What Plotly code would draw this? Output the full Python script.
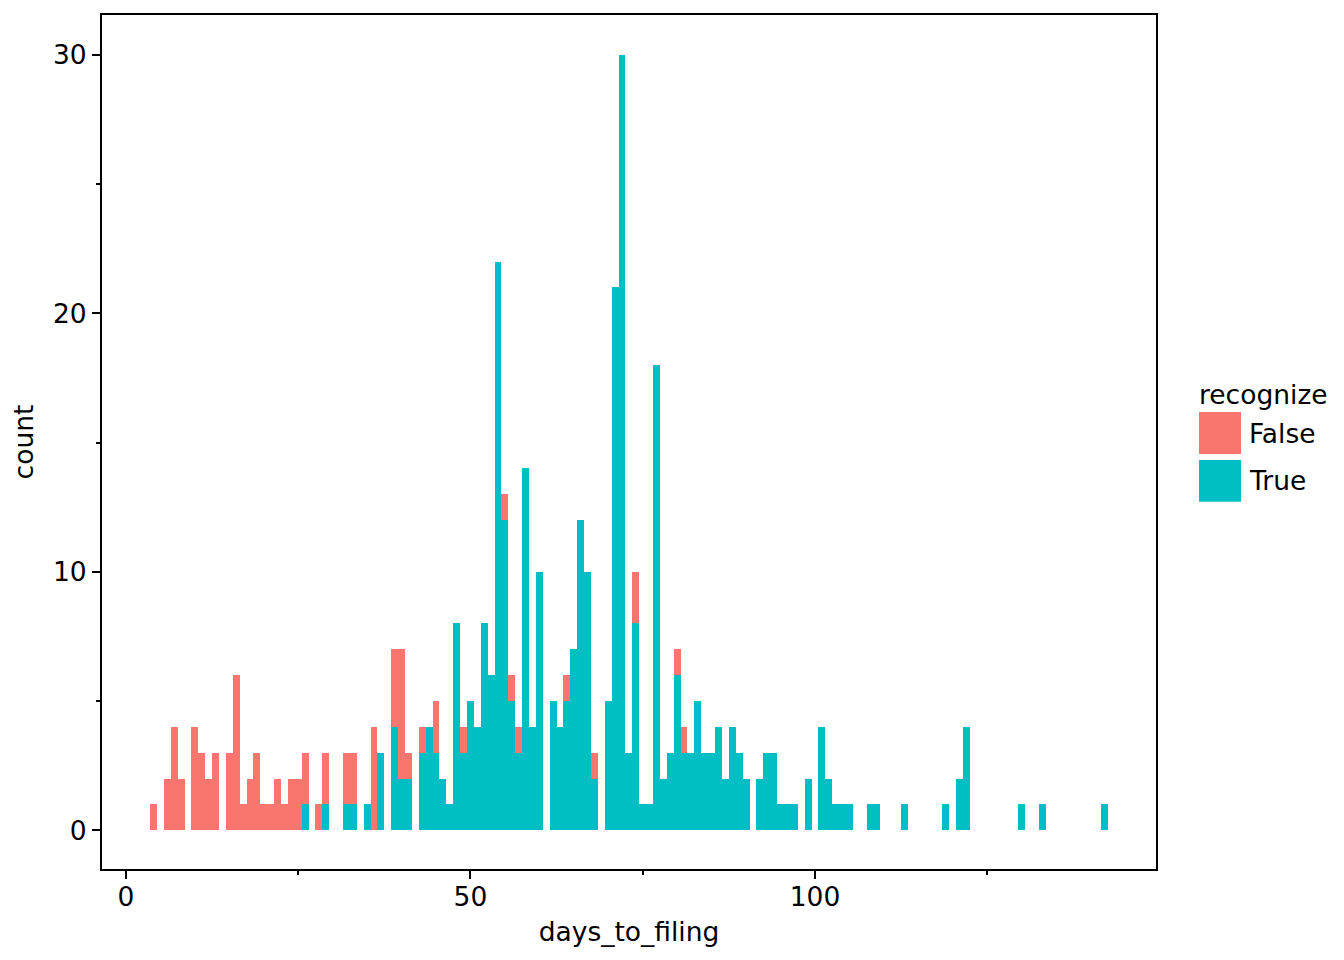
import plotly.graph_objects as go

# Histogram (binwidth = 1) counts
false_days = [4, 6, 7, 8, 10, 11, 12, 13, 15, 16, 17, 18, 19, 20, 21, 22, 23, 24, 25, 26,
              28, 29, 32, 33, 36, 39, 40, 41, 43, 45, 49, 55, 56, 57, 64, 68, 74, 80, 81]
false_counts = [1, 2, 4, 2, 4, 3, 2, 3, 3, 6, 1, 2, 3, 1, 1, 2, 1, 2, 2, 2,
                1, 2, 2, 2, 4, 3, 5, 1, 1, 2, 1, 1, 1, 1, 1, 1, 2, 1, 1]

true_days = [26, 29, 32, 33, 35, 37, 39, 40, 41, 43, 44, 45, 46, 47, 48, 49, 50, 51, 52, 53,
             54, 55, 56, 57, 58, 59, 60, 62, 63, 64, 65, 66, 67, 68, 70, 71, 72, 73, 74, 75,
             76, 77, 78, 79, 80, 81, 82, 83, 84, 85, 86, 87, 88, 89, 90, 92, 93, 94, 95, 96,
             97, 99, 101, 102, 103, 104, 105, 108, 109, 113, 119, 121, 122, 130, 133, 142]
true_counts = [1, 1, 1, 1, 1, 3, 4, 2, 2, 3, 4, 3, 2, 1, 8, 3, 5, 4, 8, 6,
               22, 12, 5, 3, 14, 4, 10, 5, 4, 5, 7, 12, 10, 2, 5, 21, 30, 3, 8, 1,
               1, 18, 2, 3, 6, 3, 3, 5, 3, 3, 4, 2, 4, 3, 2, 2, 3, 3, 1, 1,
               1, 2, 4, 2, 1, 1, 1, 1, 1, 1, 1, 2, 4, 1, 1, 1]

x_ticks = [0, 50, 100]
y_ticks = [0, 10, 20, 30]
legend_title = "recognize"
groups = ["False", "True"]
colors = {"False": "#F8766D", "True": "#00BFC4"}

FONT = "DejaVu Sans"
FS = 26.5

# page offset of the plot div (default body margin)
OFF = 8
FIG_W, FIG_H = 1344 - OFF, 960 - OFF
# plot panel in window pixels
PL, PR, PT, PB = 102, 1156, 13, 869

fig = go.Figure()
# True at the bottom of the stack, False on top (ggplot stacking)
fig.add_trace(go.Bar(x=true_days, y=true_counts, width=1, name="True",
                     marker=dict(color=colors["True"], line=dict(width=0)), showlegend=False))
fig.add_trace(go.Bar(x=false_days, y=false_counts, width=1, name="False",
                     marker=dict(color=colors["False"], line=dict(width=0)), showlegend=False))

axis_common = dict(
    showline=True, linecolor="black", linewidth=2, mirror=True,
    ticks="outside", ticklen=8, tickwidth=1.8, tickcolor="black",
    showgrid=False, zeroline=False,
    tickfont=dict(family=FONT, size=FS, color="black"),
)

fig.update_xaxes(
    range=[-3.48, 149.5], tickmode="array", tickvals=x_ticks,
    ticktext=[str(v) for v in x_ticks], ticklabelstandoff=-5,
    minor=dict(ticks="outside", ticklen=4, tickwidth=1.8, tickcolor="black", dtick=25, tick0=0, showgrid=False),
    title=dict(text="days_to_filing", font=dict(family=FONT, size=FS, color="black"), standoff=12),
    **axis_common,
)
fig.update_yaxes(
    range=[-1.5, 31.54], tickmode="array", tickvals=y_ticks,
    ticktext=[str(v) for v in y_ticks],
    minor=dict(ticks="outside", ticklen=4, tickwidth=1.8, tickcolor="black", dtick=5, tick0=0, showgrid=False),
    title=dict(text="count", font=dict(family=FONT, size=FS, color="black"), standoff=14),
    **axis_common,
)

W, H = float(PR - PL), float(PB - PT)
def px(x):
    return (x - PL) / W
def py(y):
    return (PB - y) / H

shapes = []
annotations = [dict(text=legend_title, x=px(1197), y=py(393), xref="paper", yref="paper",
                    xanchor="left", yanchor="middle", showarrow=False,
                    font=dict(family=FONT, size=FS, color="black"))]
key_tops = [411, 459]
for g, top in zip(groups, key_tops):
    shapes.append(dict(type="rect", xref="paper", yref="paper",
                       x0=px(1199), x1=px(1241), y0=py(top + 42), y1=py(top),
                       fillcolor=colors[g], line=dict(width=0)))
    annotations.append(dict(text=g, x=px(1247), y=py(top + 21), xref="paper", yref="paper",
                            xanchor="left", yanchor="middle", showarrow=False,
                            font=dict(family=FONT, size=FS, color="black")))

fig.update_layout(
    barmode="stack", bargap=0,
    width=FIG_W, height=FIG_H,
    margin=dict(l=PL - OFF, r=FIG_W - (PR - OFF), t=PT - OFF, b=FIG_H - (PB - OFF)),
    plot_bgcolor="white", paper_bgcolor="white",
    font=dict(family=FONT, size=FS, color="black"),
    shapes=shapes, annotations=annotations,
    showlegend=False,
)

fig.write_html("out.html")
